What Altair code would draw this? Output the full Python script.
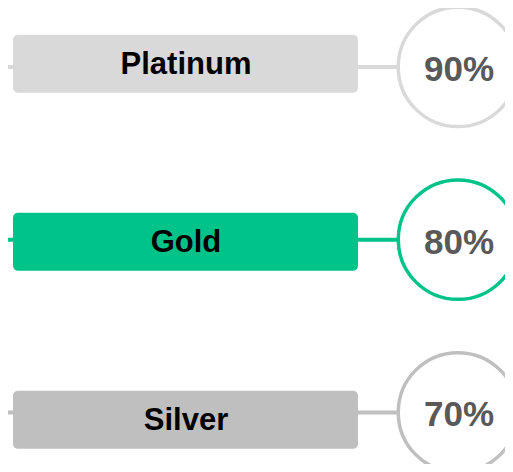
import altair as alt
import pandas as pd

# Data
tiers = ["Platinum", "Gold", "Silver"]
shares = [90, 80, 70]
tier_colors = ["#d9d9d9", "#00c389", "#bfbfbf"]

df = pd.DataFrame({
    "tier": tiers,
    "share": shares,
})
df["pct"] = df["share"].astype(str) + "%"

FONT = "Liberation Sans"

# y scale used by the label boxes
y_box = alt.Y(
    "tier:N",
    sort=tiers,
    axis=None,
    scale=alt.Scale(domain=tiers, range=[-33.3, 500.7], paddingInner=0.6742, paddingOuter=0.3371),
)
# y scale used by the rings, connectors and percentages
y_ring = alt.Y(
    "tier:N",
    sort=tiers,
    axis=None,
    scale=alt.Scale(domain=tiers, range=[-27.5, 490.75], paddingInner=0.5, paddingOuter=0.25),
)
color_scale = alt.Scale(domain=tiers, range=tier_colors)

base = alt.Chart(df)

connector = base.mark_rule(strokeWidth=4).encode(
    x=alt.value(0),
    x2=alt.value(400),
    y=y_ring,
    color=alt.Color("tier:N", scale=color_scale, legend=None),
)

boxes = base.mark_bar(cornerRadius=5).encode(
    x=alt.value(5),
    x2=alt.value(350),
    y=y_box,
    color=alt.Color("tier:N", scale=color_scale, legend=None),
)

labels = base.mark_text(
    font=FONT, fontWeight="bold", fontSize=31, color="#000000",
    align="center", baseline="middle", dy=1,
).encode(
    x=alt.value(178),
    y=y_box,
    text="tier:N",
)

rings = base.mark_point(
    shape="circle", filled=False, fill="white", fillOpacity=1, opacity=1,
    strokeWidth=3.5, size=14280,
).encode(
    x=alt.value(450),
    y=y_ring,
    color=alt.Color("tier:N", scale=color_scale, legend=None),
)

pcts = base.mark_text(
    font=FONT, fontWeight="bold", fontSize=35, color="#595959",
    align="center", baseline="middle", dy=3,
).encode(
    x=alt.value(451),
    y=y_ring,
    text="pct:N",
)

chart = alt.layer(connector, boxes, labels, rings, pcts).resolve_scale(
    y="independent"
).properties(
    width=497,
    height=456,
    autosize=alt.AutoSizeParams(type="none"),
    padding=0,
).configure_view(stroke=None)

chart.save("out.html", embed_options={"renderer": "svg", "actions": False})
